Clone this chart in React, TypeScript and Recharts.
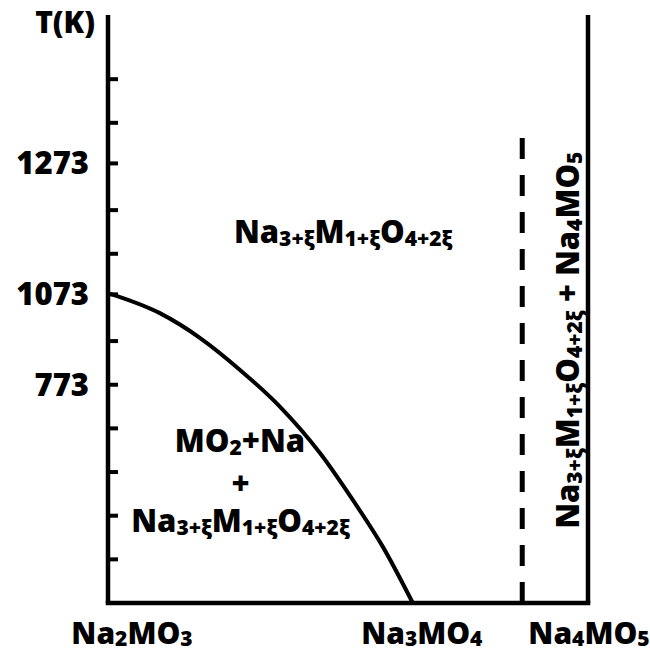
import {
  Label,
  Line,
  LineChart,
  ReferenceDot,
  ReferenceLine,
  XAxis,
  YAxis,
} from "recharts";

// compositions along the bottom (x in % of the Na2MO3 -> Na4MO5 span)
const compositions = ["Na_{2}MO_{3}", "Na_{3}MO_{4}", "Na_{4}MO_{5}"];
const compositionX = [0, 63.5, 100];

// temperature axis is schematic: evenly spaced ticks, only three labelled
const tempTicks = [1, 2, 3, 4, 5, 6, 7.07, 8, 9, 10.07, 11, 12];
const tempLabels = ["", "", "", "", "773", "", "1073", "", "", "1273", "", ""];

// phase boundary MO2+Na / Na3+xM1+xO4+2x
const boundaryX = [0, 10.8, 19.2, 27.5, 35.8, 44.2, 51.0, 57.3, 63.5];
const boundaryY = [7.1, 6.64, 6.07, 5.34, 4.5, 3.43, 2.36, 1.28, 0];

const dashedX = 86.3;
const dashedTop = 10.65;
const edgeX = 100;

const regionText = [
  "Na_{3+ξ}M_{1+ξ}O_{4+2ξ}",
  "MO_{2}+Na",
  "+",
  "Na_{3+ξ}M_{1+ξ}O_{4+2ξ}",
  "Na_{3+ξ}M_{1+ξ}O_{4+2ξ} + Na_{4}MO_{5}",
];
const regionX = [49.0, 27.5, 27.6, 27.6, 98.1];
const regionY = [8.24, 3.46, 2.48, 1.63, 6.02];
const regionAngle = [0, 0, 0, 0, -90];

const FONT = "'Open Sans', 'DejaVu Sans', sans-serif";
const xNudge = [24, 9, 1];

const data = boundaryX.map((x, i) => ({ x, y: boundaryY[i] }));

function formula(s: string, size: number, sub: number, shift: number) {
  const parts: { text: string; sub: boolean }[] = [];
  const re = /_\{([^}]*)\}|([^_]+)/g;
  let m: RegExpExecArray | null;
  while ((m = re.exec(s))) {
    if (m[1] !== undefined) parts.push({ text: m[1], sub: true });
    else parts.push({ text: m[2], sub: false });
  }
  let lowered = false;
  return parts.map((p, i) => {
    let dy = 0;
    if (p.sub && !lowered) {
      dy = shift;
      lowered = true;
    } else if (!p.sub && lowered) {
      dy = -shift;
      lowered = false;
    }
    return (
      <tspan key={i} fontSize={p.sub ? sub : size} dy={dy}>
        {p.text}
      </tspan>
    );
  });
}

function CompTick(props: any) {
  const { x, y, index } = props;
  return (
    <text
      x={x + xNudge[index]}
      y={y}
      textAnchor="middle"
      fontFamily={FONT}
      fontWeight={800}
      fill="#000"
    >
      {formula(compositions[index], 30, 21, 2)}
    </text>
  );
}

function RegionLabel(props: any) {
  const { cx, cy, text, angle } = props;
  return (
    <text
      x={cx}
      y={cy}
      textAnchor="middle"
      fontFamily={FONT}
      fontWeight={800}
      fill="#000"
      transform={angle ? `rotate(${angle}, ${cx}, ${cy})` : undefined}
    >
      {formula(text, 31, 21, 3)}
    </text>
  );
}

export default function App() {
  return (
    <div style={{ position: "absolute", left: 0, top: 0 }}>
      <LineChart
        width={650}
        height={653}
        data={data}
        margin={{ top: 15, right: 62, bottom: 0, left: 0 }}
      >
        <XAxis
          type="number"
          dataKey="x"
          domain={[0, 100]}
          ticks={compositionX}
          tick={<CompTick />}
          tickLine={false}
          tickSize={0}
          tickMargin={41}
          height={50}
          axisLine={{ stroke: "#000", strokeWidth: 4.5, strokeLinecap: "square" }}
        />
        <YAxis
          type="number"
          domain={[0, 13.47]}
          ticks={tempTicks}
          width={108}
          tickSize={-10}
          tickMargin={29}
          tickFormatter={(_v: number, i: number) => tempLabels[i]}
          tick={{ fill: "#000", fontSize: 31, fontWeight: 800, fontFamily: FONT }}
          tickLine={{ stroke: "#000", strokeWidth: 4 }}
          axisLine={{ stroke: "#000", strokeWidth: 4.5 }}
        >
          <Label
            content={({ viewBox }: any) => (
              <text
                x={viewBox.x + viewBox.width - 13}
                y={viewBox.y + 18}
                textAnchor="end"
                fontFamily={FONT}
                fontWeight={800}
                fontSize={30}
                fill="#000"
              >
                T(K)
              </text>
            )}
          />
        </YAxis>

        <ReferenceLine x={edgeX} stroke="#000" strokeWidth={4.5} />
        <ReferenceLine
          segment={[
            { x: dashedX, y: dashedTop },
            { x: dashedX, y: 0 },
          ]}
          stroke="#000"
          strokeWidth={5}
          strokeDasharray="21 16"
        />

        <Line
          type="monotone"
          dataKey="y"
          stroke="#000"
          strokeWidth={4}
          dot={false}
          isAnimationActive={false}
        />

        {regionText.map((t, i) => (
          <ReferenceDot
            key={i}
            x={regionX[i]}
            y={regionY[i]}
            r={0}
            shape={(p: any) => (
              <RegionLabel cx={p.cx} cy={p.cy} text={t} angle={regionAngle[i]} />
            )}
          />
        ))}
      </LineChart>
    </div>
  );
}
